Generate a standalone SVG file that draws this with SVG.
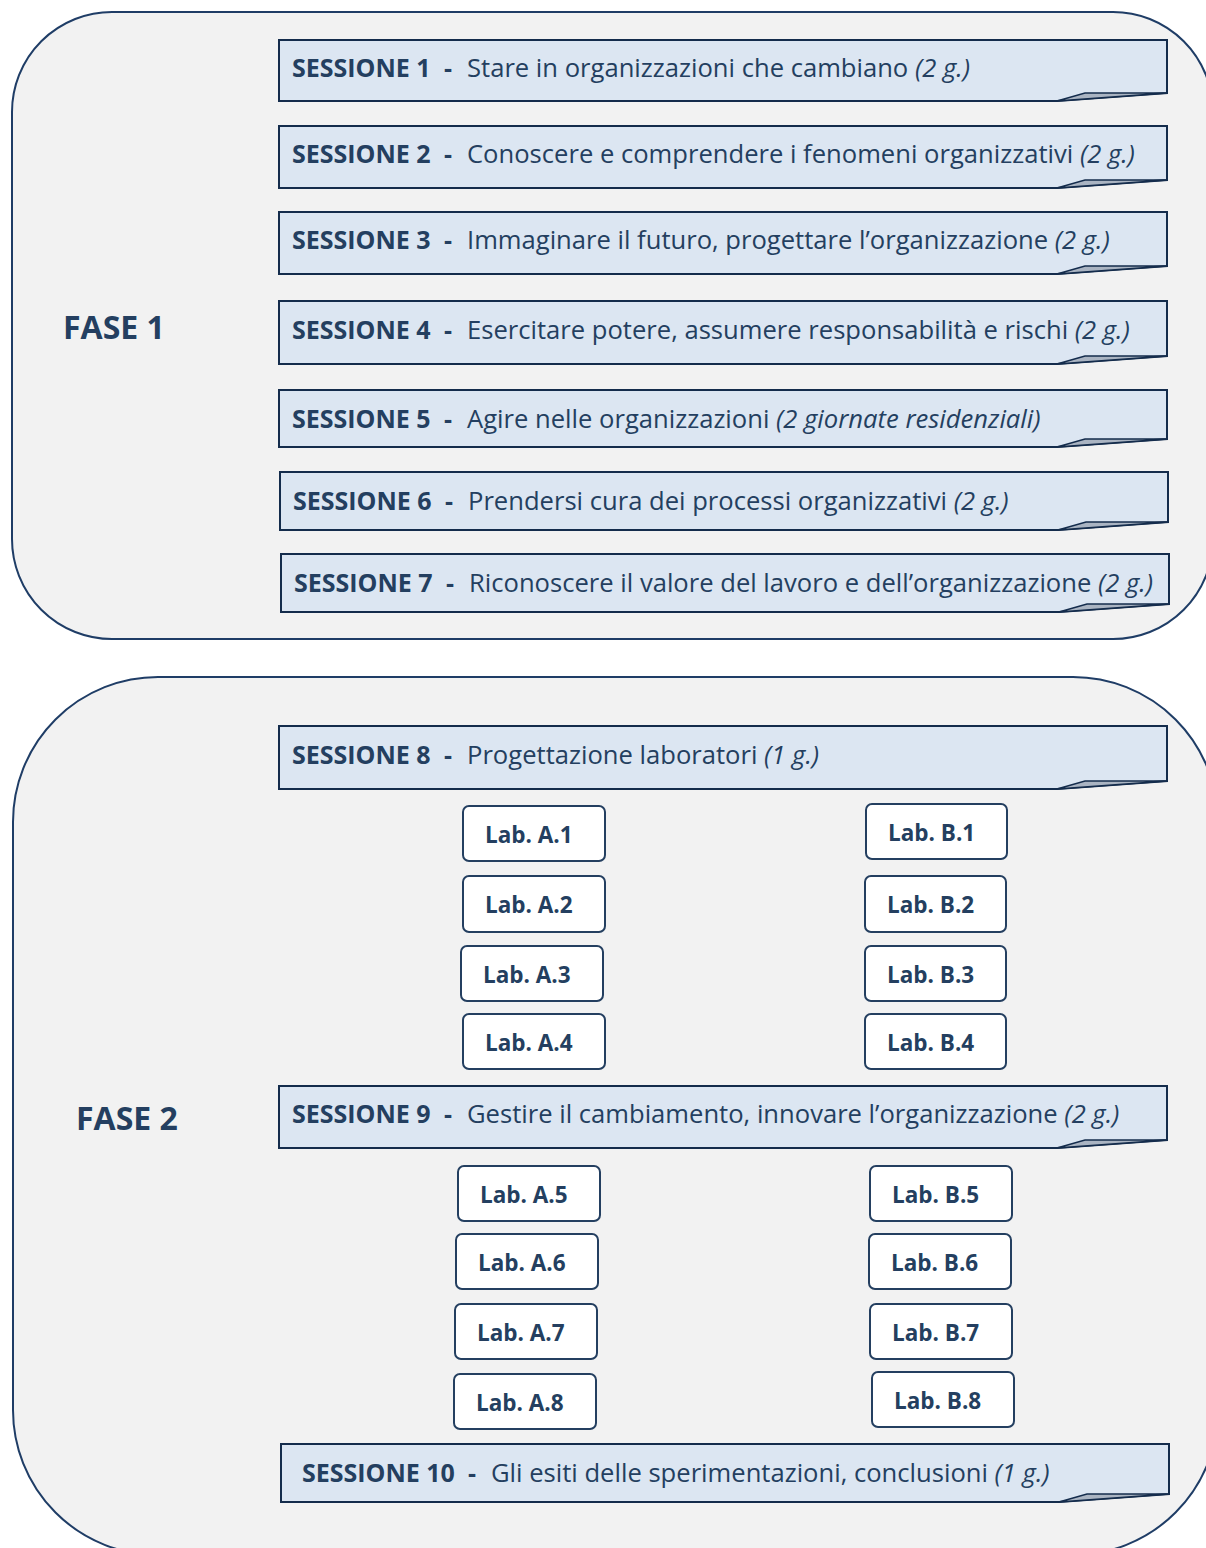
<svg xmlns="http://www.w3.org/2000/svg" width="1206" height="1548" viewBox="0 0 1206 1548">
<style>
.panel{fill:#f2f2f2;stroke:#1f3d66;stroke-width:2}
.sbox{fill:#dce6f2;stroke:#142c4c;stroke-width:2;stroke-linejoin:miter}
.fold{fill:#aab4c2;stroke:#142c4c;stroke-width:1.5;stroke-linejoin:miter}
.lab{fill:#ffffff;stroke:#243f60;stroke-width:2}
text{font-family:"Open Sans","Noto Sans","DejaVu Sans",sans-serif;fill:#243f60}
.st{font-size:25.6px}
.sb{font-size:25px;font-weight:bold}
.it{font-style:italic}
.fase{font-size:32px;font-weight:bold}
.lt{font-size:22.5px;font-weight:bold}
</style>
<rect width="1206" height="1548" fill="#ffffff"/>
<g id="fase1">
<rect class="panel" x="12" y="12" width="1201" height="627" rx="100" ry="100"/>
<text class="fase" x="63" y="339">FASE 1</text>
</g>
<g id="fase2">
<rect class="panel" x="13" y="677" width="1205" height="878" rx="145" ry="145"/>
<text class="fase" x="76" y="1130">FASE 2</text>
</g>
<g id="sessione1">
<path class="sbox" d="M279,40 H1167 V93 L1057,101 H279 Z"/>
<polygon class="fold" points="1057,101 1085,93 1167,93"/>
<text class="sb" x="292" y="77">SESSIONE 1</text><text class="sb" x="444" y="77">-</text>
<text class="st" x="467" y="77">Stare in organizzazioni che cambiano <tspan class="it">(2 g.)</tspan></text>
</g>
<g id="sessione2">
<path class="sbox" d="M279,126 H1167 V180 L1057,188 H279 Z"/>
<polygon class="fold" points="1057,188 1085,180 1167,180"/>
<text class="sb" x="292" y="163">SESSIONE 2</text><text class="sb" x="444" y="163">-</text>
<text class="st" x="467" y="163">Conoscere e comprendere i fenomeni organizzativi <tspan class="it">(2 g.)</tspan></text>
</g>
<g id="sessione3">
<path class="sbox" d="M279,212 H1167 V266 L1057,274 H279 Z"/>
<polygon class="fold" points="1057,274 1085,266 1167,266"/>
<text class="sb" x="292" y="249">SESSIONE 3</text><text class="sb" x="444" y="249">-</text>
<text class="st" x="467" y="249">Immaginare il futuro, progettare l’organizzazione <tspan class="it">(2 g.)</tspan></text>
</g>
<g id="sessione4">
<path class="sbox" d="M279,301 H1167 V356 L1057,364 H279 Z"/>
<polygon class="fold" points="1057,364 1085,356 1167,356"/>
<text class="sb" x="292" y="339">SESSIONE 4</text><text class="sb" x="444" y="339">-</text>
<text class="st" x="467" y="339">Esercitare potere, assumere responsabilità e rischi <tspan class="it">(2 g.)</tspan></text>
</g>
<g id="sessione5">
<path class="sbox" d="M279,390 H1167 V439 L1057,447 H279 Z"/>
<polygon class="fold" points="1057,447 1085,439 1167,439"/>
<text class="sb" x="292" y="428">SESSIONE 5</text><text class="sb" x="444" y="428">-</text>
<text class="st" x="467" y="428">Agire nelle organizzazioni <tspan class="it">(2 giornate residenziali)</tspan></text>
</g>
<g id="sessione6">
<path class="sbox" d="M280,472 H1168 V522 L1058,530 H280 Z"/>
<polygon class="fold" points="1058,530 1086,522 1168,522"/>
<text class="sb" x="293" y="510">SESSIONE 6</text><text class="sb" x="445" y="510">-</text>
<text class="st" x="468" y="510">Prendersi cura dei processi organizzativi <tspan class="it">(2 g.)</tspan></text>
</g>
<g id="sessione7">
<path class="sbox" d="M281,554 H1169 V604 L1059,612 H281 Z"/>
<polygon class="fold" points="1059,612 1087,604 1169,604"/>
<text class="sb" x="294" y="592">SESSIONE 7</text><text class="sb" x="446" y="592">-</text>
<text class="st" x="469" y="592">Riconoscere il valore del lavoro e dell’organizzazione <tspan class="it">(2 g.)</tspan></text>
</g>
<g id="sessione8">
<path class="sbox" d="M279,726 H1167 V781 L1057,789 H279 Z"/>
<polygon class="fold" points="1057,789 1085,781 1167,781"/>
<text class="sb" x="292" y="764">SESSIONE 8</text><text class="sb" x="444" y="764">-</text>
<text class="st" x="467" y="764">Progettazione laboratori <tspan class="it">(1 g.)</tspan></text>
</g>
<g id="sessione9">
<path class="sbox" d="M279,1086 H1167 V1140 L1057,1148 H279 Z"/>
<polygon class="fold" points="1057,1148 1085,1140 1167,1140"/>
<text class="sb" x="292" y="1123">SESSIONE 9</text><text class="sb" x="444" y="1123">-</text>
<text class="st" x="467" y="1123">Gestire il cambiamento, innovare l’organizzazione <tspan class="it">(2 g.)</tspan></text>
</g>
<g id="sessione10">
<path class="sbox" d="M281,1444 H1169 V1494 L1059,1502 H281 Z"/>
<polygon class="fold" points="1059,1502 1087,1494 1169,1494"/>
<text class="sb" x="302" y="1482">SESSIONE 10</text><text class="sb" x="468" y="1482">-</text>
<text class="st" x="491" y="1482">Gli esiti delle sperimentazioni, conclusioni <tspan class="it">(1 g.)</tspan></text>
</g>
<g id="labA1"><rect class="lab" x="463" y="806" width="142" height="55" rx="6"/><text class="lt" x="485" y="843">Lab. A.1</text></g>
<g id="labB1"><rect class="lab" x="866" y="804" width="141" height="55" rx="6"/><text class="lt" x="888" y="841">Lab. B.1</text></g>
<g id="labA2"><rect class="lab" x="463" y="876" width="142" height="56" rx="6"/><text class="lt" x="485" y="913">Lab. A.2</text></g>
<g id="labB2"><rect class="lab" x="865" y="876" width="141" height="56" rx="6"/><text class="lt" x="887" y="913">Lab. B.2</text></g>
<g id="labA3"><rect class="lab" x="461" y="946" width="142" height="55" rx="6"/><text class="lt" x="483" y="983">Lab. A.3</text></g>
<g id="labB3"><rect class="lab" x="865" y="946" width="141" height="55" rx="6"/><text class="lt" x="887" y="983">Lab. B.3</text></g>
<g id="labA4"><rect class="lab" x="463" y="1014" width="142" height="55" rx="6"/><text class="lt" x="485" y="1051">Lab. A.4</text></g>
<g id="labB4"><rect class="lab" x="865" y="1014" width="141" height="55" rx="6"/><text class="lt" x="887" y="1051">Lab. B.4</text></g>
<g id="labA5"><rect class="lab" x="458" y="1166" width="142" height="55" rx="6"/><text class="lt" x="480" y="1203">Lab. A.5</text></g>
<g id="labB5"><rect class="lab" x="870" y="1166" width="142" height="55" rx="6"/><text class="lt" x="892" y="1203">Lab. B.5</text></g>
<g id="labA6"><rect class="lab" x="456" y="1234" width="142" height="55" rx="6"/><text class="lt" x="478" y="1271">Lab. A.6</text></g>
<g id="labB6"><rect class="lab" x="869" y="1234" width="142" height="55" rx="6"/><text class="lt" x="891" y="1271">Lab. B.6</text></g>
<g id="labA7"><rect class="lab" x="455" y="1304" width="142" height="55" rx="6"/><text class="lt" x="477" y="1341">Lab. A.7</text></g>
<g id="labB7"><rect class="lab" x="870" y="1304" width="142" height="55" rx="6"/><text class="lt" x="892" y="1341">Lab. B.7</text></g>
<g id="labA8"><rect class="lab" x="454" y="1374" width="142" height="55" rx="6"/><text class="lt" x="476" y="1411">Lab. A.8</text></g>
<g id="labB8"><rect class="lab" x="872" y="1372" width="142" height="55" rx="6"/><text class="lt" x="894" y="1409">Lab. B.8</text></g>
<g id="connectors"/>
</svg>
